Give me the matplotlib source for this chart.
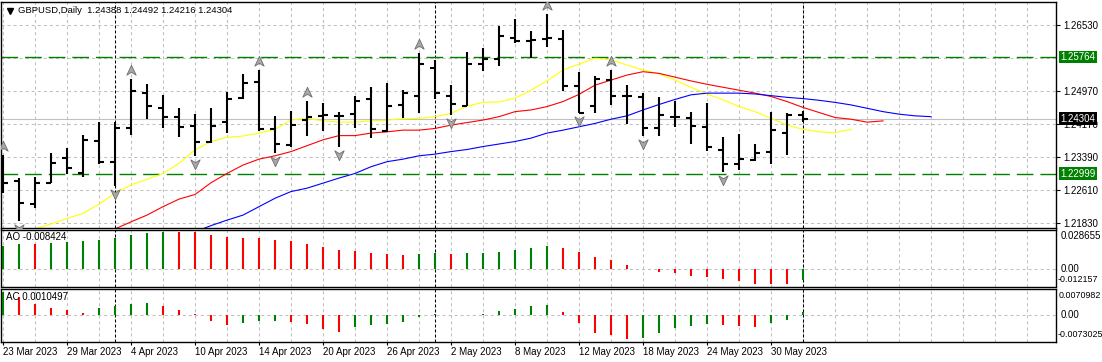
import matplotlib
matplotlib.use("Agg")
import matplotlib.pyplot as plt
from matplotlib.path import Path
from matplotlib.lines import Line2D
from matplotlib import transforms

plt.rcParams['font.family'] = ['Liberation Sans', 'DejaVu Sans']

# GBPUSD daily bars, bar 0 = 23 Mar 2023 ... bar 50 = 1 Jun 2023
opens = [1.23201, 1.22820, 1.22273, 1.22780, 1.23360, 1.23018, 1.23779, 1.23279, 1.24073, 1.24920,
         1.24549, 1.24349, 1.24135, 1.23755, 1.24230, 1.24787, 1.25182, 1.24050, 1.23676, 1.24271,
         1.24373, 1.24373, 1.24414, 1.24770, 1.24016, 1.24628, 1.24842, 1.25515, 1.24849, 1.24604,
         1.25595, 1.25721, 1.26228, 1.26157, 1.26197, 1.26197, 1.25087, 1.24611, 1.25222, 1.24842,
         1.24825, 1.24088, 1.24349, 1.24311, 1.24112, 1.23557, 1.23217, 1.23320, 1.23517, 1.23955,
         1.24388]
highs = [1.23439, 1.22885, 1.22923, 1.23479, 1.23612, 1.23914, 1.24216, 1.24216, 1.25246, 1.25127,
         1.24865, 1.24549, 1.24414, 1.24563, 1.24944, 1.25365, 1.25460, 1.24366, 1.24485, 1.24723,
         1.24668, 1.24454, 1.24842, 1.25049, 1.25158, 1.24984, 1.25857, 1.25698, 1.25103, 1.25881,
         1.25976, 1.26506, 1.26673, 1.26387, 1.26792, 1.26411, 1.25405, 1.25324, 1.25460, 1.25103,
         1.24920, 1.24811, 1.24723, 1.24454, 1.24668, 1.23859, 1.23931, 1.23693, 1.24454, 1.24430,
         1.24492]
lows = [1.22528, 1.21876, 1.22171, 1.22766, 1.22987, 1.22908, 1.23217, 1.22709, 1.23914, 1.24295,
        1.24088, 1.23874, 1.23422, 1.23717, 1.23969, 1.24763, 1.24016, 1.23493, 1.23636, 1.23890,
        1.24016, 1.23636, 1.24088, 1.23850, 1.23978, 1.24311, 1.24430, 1.24763, 1.24390, 1.24604,
        1.25443, 1.25562, 1.26109, 1.25752, 1.26014, 1.24961, 1.24430, 1.24430, 1.24628, 1.24176,
        1.23890, 1.23890, 1.24112, 1.23700, 1.23541, 1.23027, 1.23082, 1.23303, 1.23225, 1.23439,
        1.24216]
closes = [1.22780, 1.22290, 1.22766, 1.23255, 1.23122, 1.23795, 1.23279, 1.24088, 1.24968, 1.24611,
          1.24335, 1.24112, 1.23755, 1.24135, 1.24763, 1.25144, 1.24057, 1.23693, 1.24152, 1.24349,
          1.24380, 1.24365, 1.24730, 1.24050, 1.24611, 1.24920, 1.25595, 1.24920, 1.24651, 1.25595,
          1.25714, 1.26276, 1.26157, 1.26173, 1.26214, 1.25079, 1.24430, 1.25246, 1.24849, 1.24835,
          1.24088, 1.24390, 1.24340, 1.24128, 1.23636, 1.23217, 1.23343, 1.23493, 1.24033, 1.24390,
          1.24304]

# alligator lines (shifted forward, so they run past the last bar)
lips_start = 2
lips = [1.2168, 1.2180, 1.2193, 1.2205, 1.2227, 1.2253, 1.2273, 1.2286, 1.2300, 1.2324,
        1.2356, 1.2376, 1.2386, 1.2389, 1.2396, 1.2405, 1.2427, 1.2431, 1.2425, 1.2422,
        1.2422, 1.2425, 1.2427, 1.2430, 1.2431, 1.2435, 1.2443, 1.2460, 1.2469, 1.2470,
        1.2479, 1.2498, 1.2520, 1.2546, 1.2560, 1.2574, 1.2570, 1.2558, 1.2546, 1.2537,
        1.2522, 1.2505, 1.2489, 1.2475, 1.2459, 1.2447, 1.2431, 1.2415, 1.2405, 1.2399,
        1.2397, 1.2405]
teeth_start = 7
teeth = [1.2168, 1.2185, 1.2201, 1.2221, 1.2239, 1.2250, 1.2278, 1.2300, 1.2320, 1.2334,
         1.2342, 1.2352, 1.2366, 1.2380, 1.2390, 1.2390, 1.2396, 1.2399, 1.2403, 1.2403,
         1.2407, 1.2415, 1.2421, 1.2427, 1.2435, 1.2447, 1.2451, 1.2459, 1.2471, 1.2488,
         1.2510, 1.2522, 1.2534, 1.2542, 1.2538, 1.2529, 1.2520, 1.2512, 1.2505, 1.2498,
         1.2491, 1.2483, 1.2471, 1.2457, 1.2445, 1.2433, 1.2429, 1.2422, 1.2425]
jaw_start = 12
jaw = [1.2161, 1.2176, 1.2189, 1.2201, 1.2221, 1.2241, 1.2257, 1.2265, 1.2277, 1.2289,
       1.2300, 1.2316, 1.2328, 1.2334, 1.2342, 1.2346, 1.2352, 1.2357, 1.2364, 1.2370,
       1.2376, 1.2384, 1.2396, 1.2403, 1.2411, 1.2419, 1.2429, 1.2437, 1.2451, 1.2464,
       1.2476, 1.2487, 1.2491, 1.2491, 1.2491, 1.2489, 1.2485, 1.2481, 1.2478, 1.2474,
       1.2469, 1.2463, 1.2455, 1.2447, 1.2441, 1.2437, 1.2435]

fractal_up = [0, 8, 16, 19, 26, 34, 38]
fractal_down = [1, 7, 12, 17, 21, 28, 36, 40, 45]

ao = [0.01769, 0.01948, 0.01901, 0.02025, 0.02103, 0.02134, 0.02235, 0.02413, 0.02623, 0.02801,
      0.028655, 0.02860, 0.02840, 0.02623, 0.02491, 0.02390, 0.02380, 0.02235, 0.02157, 0.01948,
      0.01715, 0.01436, 0.01420, 0.01249, 0.01172, 0.01071, 0.01172, 0.01249, 0.01172, 0.01203,
      0.01249, 0.01327, 0.01482, 0.01614, 0.01769, 0.01614, 0.01304, 0.00916, 0.00683, 0.00295,
      -0.0003, -0.00248, -0.00326, -0.00559, -0.00636, -0.00792, -0.00947, -0.01180, -0.01203, -0.012157,
      -0.008424]
ac = [0.0070982, 0.00567, 0.00341, 0.00226, 0.00155, 0.00084, 0.00226, 0.00279, 0.00341, 0.00372,
      0.00279, 0.00155, 0.00053, -0.00186, -0.00310, -0.00248, -0.00186, -0.00175, -0.00217, -0.00279,
      -0.00434, -0.00527, -0.00372, -0.00310, -0.00279, -0.00217, -0.00062, 0.00053, 0.00022, 0.00015,
      0.00053, 0.00124, 0.00195, 0.00279, 0.00310, 0.00093, -0.00239, -0.00549, -0.00611, -0.0073025,
      -0.00704, -0.00549, -0.00394, -0.00332, -0.00270, -0.00301, -0.00332, -0.00363, -0.00239, -0.00146,
      0.0010497]

tick_bars = [0, 4, 8, 12, 16, 20, 24, 28, 32, 36, 40, 44, 48]
tick_labels = ["23 Mar 2023", "29 Mar 2023", "4 Apr 2023", "10 Apr 2023", "14 Apr 2023",
               "20 Apr 2023", "26 Apr 2023", "2 May 2023", "8 May 2023", "12 May 2023",
               "18 May 2023", "24 May 2023", "30 May 2023"]
separators = [7, 27, 50]
levels = [1.25764, 1.22999]
price_ticks = [1.26530, 1.24970, 1.24170, 1.23390, 1.22610, 1.21830]
grid_prices = [1.26530, 1.25750, 1.24970, 1.24170, 1.23390, 1.22610, 1.21830]
bid = 1.24304

W, H = 1102, 362
fig = plt.figure(figsize=(W / 100, H / 100), dpi=100)
fig.patch.set_facecolor("white")


def panel(top, bottom):
    return fig.add_axes([0.5 / W, 1 - bottom / H, 1055.5 / W, (bottom - top) / H])


ax = panel(1.5, 227.5)
ax_ao = panel(229.5, 286.5)
ax_ac = panel(288.5, 341.5)

xmin, xmax = -0.156, 65.81
grid_kw = dict(color="#c0c0c0", lw=0.75, ls=(0, (2.9, 2.9)), zorder=0)
sep_kw = dict(color="black", lw=0.75, ls=(0, (2.9, 1.9)), zorder=1)

for a in (ax, ax_ao, ax_ac):
    a.set_xlim(xmin, xmax)
    for s in a.spines.values():
        s.set_color("black")
        s.set_linewidth(1.0)
    for gx in range(0, 66, 2):
        a.axvline(gx, **grid_kw)
    for s in separators:
        a.axvline(s, **sep_kw)
    a.tick_params(axis="x", length=0, labelbottom=False)
    a.set_yticks([])

# ---- main price panel ----
ax.set_ylim(1.21715, 1.27089)
for p in grid_prices:
    ax.axhline(p, **grid_kw)
ax.axhline(bid, color="#c0c0c0", lw=0.8, zorder=1)
for lv in levels:
    ax.axhline(lv, color="#008000", lw=1.0, ls=(0, (12, 5)), zorder=1)

ax.plot(range(lips_start, lips_start + len(lips)), lips, color="#ffff00", lw=0.8, zorder=2)
ax.plot(range(teeth_start, teeth_start + len(teeth)), teeth, color="#ff0000", lw=0.8, zorder=2)
ax.plot(range(jaw_start, jaw_start + len(jaw)), jaw, color="#0000ff", lw=0.8, zorder=2)

idx = list(range(len(opens)))
ax.vlines(idx, lows, highs, color="black", lw=1.5, zorder=3)
ax.hlines(opens, [i - 0.34 for i in idx], idx, color="black", lw=1.5, zorder=3)
ax.hlines(closes, idx, [i + 0.34 for i in idx], color="black", lw=1.5, zorder=3)

# fractal arrows
up_arrow = Path([(0, 1), (0.9, -0.9), (0, -0.35), (-0.9, -0.9), (0, 1)],
                [Path.MOVETO, Path.LINETO, Path.LINETO, Path.LINETO, Path.CLOSEPOLY])
down_arrow = Path([(0, -1), (0.9, 0.9), (0, 0.35), (-0.9, 0.9), (0, -1)],
                  [Path.MOVETO, Path.LINETO, Path.LINETO, Path.LINETO, Path.CLOSEPOLY])
up_tr = transforms.offset_copy(ax.transData, fig=fig, y=6.8, units="points")
dn_tr = transforms.offset_copy(ax.transData, fig=fig, y=-5.8, units="points")
ax.plot(fractal_up, [highs[i] for i in fractal_up], ls="none", marker=up_arrow, ms=7.5,
        mfc="#a8a8a8", mec="#6e6e6e", mew=0.6, transform=up_tr, zorder=4)
ax.plot(fractal_down, [lows[i] for i in fractal_down], ls="none", marker=down_arrow, ms=7.5,
        mfc="#a8a8a8", mec="#6e6e6e", mew=0.6, transform=dn_tr, zorder=4)

ax.yaxis.tick_right()
ax.set_yticks(price_ticks)
ax.set_yticklabels(["%.5f" % p for p in price_ticks])
ax.tick_params(axis="y", length=3, width=0.8, pad=2, labelsize=7, colors="black")

for lv in levels:
    ax.annotate("%.5f" % lv, xy=(1, lv), xycoords=("axes fraction", "data"),
                xytext=(3.2, 0), textcoords="offset points", va="center", ha="left",
                fontsize=7, color="white", annotation_clip=False,
                bbox=dict(boxstyle="square,pad=0.12", fc="#008000", ec="none"))
ax.annotate("%.5f" % bid, xy=(1, bid), xycoords=("axes fraction", "data"),
            xytext=(3.2, 0), textcoords="offset points", va="center", ha="left",
            fontsize=7, color="white", annotation_clip=False,
            bbox=dict(boxstyle="square,pad=0.15", fc="black", ec="none"))

fig.add_artist(Line2D([10 / W], [1 - 10.5 / H], marker="v", ms=4.5, color="black",
                      transform=fig.transFigure))
fig.text(18 / W, 1 - 10.5 / H,
         "GBPUSD,Daily  %.5f %.5f %.5f %.5f" % (opens[-1], highs[-1], lows[-1], closes[-1]),
         va="center", ha="left", fontsize=6.8)


# ---- oscillator panels ----
def histo(a, vals):
    cols = []
    for i, v in enumerate(vals):
        cols.append("#008000" if i == 0 or v > vals[i - 1] else "#ff0000")
    a.vlines(range(len(vals)), 0, vals, colors=cols, lw=1.5, zorder=3)
    a.axhline(0, **grid_kw)


ax_ao.set_ylim(-0.01374, 0.0305)
histo(ax_ao, ao)
ax_ac.set_ylim(-0.00806, 0.00822)
histo(ax_ac, ac)

fig.text(6 / W, 1 - 237 / H, "AO %.6f" % ao[-1], va="center", ha="left", fontsize=7)
fig.text(6 / W, 1 - 297 / H, "AC %.7f" % ac[-1], va="center", ha="left", fontsize=7)

right_labels = [(236, "%.6f" % max(ao)), (269.3, "0.00"), (279.3, "%.6f" % min(ao)),
                (296, "%.7f" % max(ac)), (315.3, "0.00"), (334.3, "%.7f" % min(ac))]
for yy, txt in right_labels:
    if txt.startswith("-"):
        x0 = 1057.5
    elif len(txt) > 8:
        x0 = 1059
    else:
        x0 = 1060.5
    fs = 6.4 if len(txt) > 8 else 7
    fig.text(x0 / W, 1 - yy / H, txt, va="center", ha="left", fontsize=fs)

ax_ac.set_xticks(tick_bars)
ax_ac.set_xticklabels(tick_labels, ha="left", fontsize=7)
ax_ac.tick_params(axis="x", length=2.5, width=0.8, pad=1.5, labelbottom=True)

fig.savefig("out.png", dpi=100)
